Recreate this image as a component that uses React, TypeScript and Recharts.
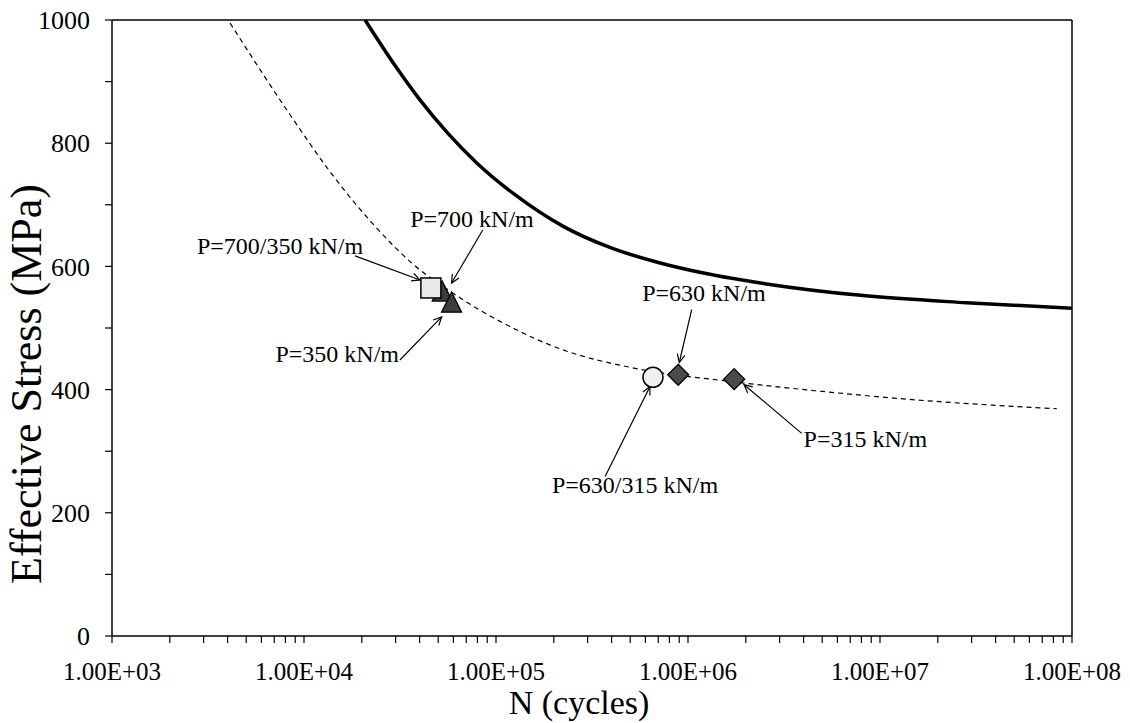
import React from 'react';
import {
  ComposedChart, Line, Scatter, XAxis, YAxis, ReferenceLine, ReferenceDot,
} from 'recharts';

type Pt = { n: number; s: number };

// upper S-N curve (thick line)
const upperCurve: Pt[] = [
  { n: 20800, s: 1000 }, { n: 29800, s: 926 }, { n: 39800, s: 872 },
  { n: 56200, s: 816 }, { n: 79400, s: 768 }, { n: 126000, s: 716 },
  { n: 224000, s: 665 }, { n: 398000, s: 630 }, { n: 708000, s: 606 },
  { n: 1260000, s: 588 }, { n: 2510000, s: 572 }, { n: 7940000, s: 553 },
  { n: 28200000, s: 541 }, { n: 100000000, s: 532 },
];

// fitted curve through the test points (dashed)
const fitCurve: Pt[] = [
  { n: 4120, s: 995 }, { n: 8510, s: 845 }, { n: 13800, s: 752 },
  { n: 22400, s: 672 }, { n: 37200, s: 603 }, { n: 56200, s: 562 },
  { n: 126000, s: 498 }, { n: 200000, s: 470 }, { n: 562000, s: 433 },
  { n: 1580000, s: 414 }, { n: 5010000, s: 397 }, { n: 15800000, s: 383 },
  { n: 83200000, s: 369 },
];

// test results
const squarePts: Pt[] = [{ n: 45800, s: 565 }];
const triangleBack: Pt[] = [{ n: 52500, s: 555 }];
const triangleFront: Pt[] = [{ n: 58700, s: 537 }];
const circlePts: Pt[] = [{ n: 657000, s: 420 }];
const diamondPts: Pt[] = [{ n: 889000, s: 424 }, { n: 1740000, s: 417 }];

// callouts: text anchor, arrow tail, arrow tip
const callouts = [
  { text: 'P=700/350 kN/m', at: [7500, 633], from: [18450, 617], to: [40200, 578] },
  { text: 'P=700 kN/m', at: [75000, 677], from: [85300, 659], to: [58700, 573] },
  { text: 'P=350 kN/m', at: [14900, 459], from: [31600, 448], to: [52100, 518] },
  { text: 'P=630 kN/m', at: [1211000, 557], from: [1045000, 530], to: [901000, 444] },
  { text: 'P=630/315 kN/m', at: [530000, 245], from: [370000, 259], to: [634000, 405] },
  { text: 'P=315 kN/m', at: [8390000, 320], from: [3910000, 329], to: [1958000, 408] },
];

const decades = [1e3, 1e4, 1e5, 1e6, 1e7, 1e8];
const minorSteps = [2, 3, 4, 5, 6, 7, 8, 9];
const xTicks = decades.flatMap((d, i) =>
  i < decades.length - 1 ? [d, ...minorSteps.map((m) => m * d)] : [d]);
const yTicks = [0, 100, 200, 300, 400, 500, 600, 700, 800, 900, 1000];
const yLabelled = [0, 200, 400, 600, 800, 1000];

const FONT = '"Liberation Serif", "Times New Roman", serif';

const XTick = ({ x, y, payload }: any) => {
  if (!decades.includes(payload.value)) return null;
  const exp = Math.round(Math.log10(payload.value));
  return (
    <text x={x} y={y + 35} textAnchor="middle" fontSize={25} fontFamily={FONT} fill="#000">
      {`1.00E+${String(exp).padStart(2, '0')}`}
    </text>
  );
};

const YTick = ({ x, y, payload }: any) => {
  if (!yLabelled.includes(payload.value)) return null;
  return (
    <text x={x - 13} y={y} dy="0.35em" textAnchor="end" fontSize={26} fontFamily={FONT} fill="#000">
      {payload.value}
    </text>
  );
};

const SquareMark = ({ cx, cy }: any) => (
  <rect x={cx - 10} y={cy - 10} width={20} height={20} fill="#e8e8e8" stroke="#000" strokeWidth={1.5} />
);

const TriangleMark = ({ cx, cy }: any) => (
  <polygon
    points={`${cx},${cy - 13} ${cx - 10},${cy + 7} ${cx + 10},${cy + 7}`}
    fill="#3c3c3c" stroke="#000" strokeWidth={1.3}
  />
);

const CircleMark = ({ cx, cy }: any) => (
  <circle cx={cx} cy={cy} r={10} fill="#efefef" stroke="#000" strokeWidth={1.5} />
);

const DiamondMark = ({ cx, cy }: any) => (
  <polygon
    points={`${cx},${cy - 10.5} ${cx + 10.5},${cy} ${cx},${cy + 10.5} ${cx - 10.5},${cy}`}
    fill="#4a4a4a" stroke="#000" strokeWidth={1.3}
  />
);

const Arrow = ({ x1, y1, x2, y2 }: any) => {
  const a = Math.atan2(y2 - y1, x2 - x1);
  const len = 9;
  const spread = 0.45;
  const p1 = [x2 - len * Math.cos(a - spread), y2 - len * Math.sin(a - spread)];
  const p2 = [x2 - len * Math.cos(a + spread), y2 - len * Math.sin(a + spread)];
  return (
    <g stroke="#000" strokeWidth={1.2} fill="none">
      <line x1={x1} y1={y1} x2={x2} y2={y2} />
      <polyline points={`${p1[0]},${p1[1]} ${x2},${y2} ${p2[0]},${p2[1]}`} />
    </g>
  );
};

const CalloutText = (text: string) => ({ cx, cy }: any) => (
  <text x={cx} y={cy} dy="0.35em" textAnchor="middle" fontSize={24} fontFamily={FONT} fill="#000">
    {text}
  </text>
);

export default function App() {
  return (
    <div style={{ position: 'absolute', left: 0, top: 0, background: '#fff' }}>
      <ComposedChart
        width={1130}
        height={723}
        margin={{ top: 20, right: 58, bottom: 7, left: 12 }}
      >
        <XAxis
          dataKey="n"
          type="number"
          scale="log"
          domain={[1000, 100000000]}
          ticks={xTicks}
          interval={0}
          allowDataOverflow
          tick={<XTick />}
          tickSize={7}
          height={80}
          axisLine={{ stroke: '#000', strokeWidth: 1.5 }}
          tickLine={{ stroke: '#000', strokeWidth: 1.2 }}
          label={{
            content: ({ viewBox }: any) => (
              <text
                x={viewBox.x + viewBox.width / 2 - 13}
                y={viewBox.y + 78}
                textAnchor="middle"
                fontSize={34}
                fontFamily={FONT}
                fill="#000"
              >
                N (cycles)
              </text>
            ),
          }}
        />
        <YAxis
          dataKey="s"
          type="number"
          domain={[0, 1000]}
          ticks={yTicks}
          interval={0}
          tick={<YTick />}
          tickSize={7}
          width={100}
          axisLine={{ stroke: '#000', strokeWidth: 1.5 }}
          tickLine={{ stroke: '#000', strokeWidth: 1.2 }}
          label={{
            content: ({ viewBox }: any) => {
              const cx = viewBox.x + 14;
              const cy = viewBox.y + viewBox.height / 2 + 56;
              return (
                <text
                  x={cx}
                  y={cy}
                  transform={`rotate(-90 ${cx} ${cy})`}
                  dy="0.35em"
                  textAnchor="middle"
                  fontSize={44}
                  fontFamily={FONT}
                  fill="#000"
                >
                  Effective Stress (MPa)
                </text>
              );
            },
          }}
        />

        {/* frame: top and right edges */}
        <ReferenceLine y={1000} stroke="#000" strokeWidth={1.5} />
        <ReferenceLine x={100000000} stroke="#000" strokeWidth={1.5} />

        <Line
          data={upperCurve}
          dataKey="s"
          type="monotone"
          stroke="#000"
          strokeWidth={3.5}
          dot={false}
          isAnimationActive={false}
        />
        <Line
          data={fitCurve}
          dataKey="s"
          type="monotone"
          stroke="#000"
          strokeWidth={1.2}
          strokeDasharray="5 4"
          dot={false}
          isAnimationActive={false}
        />

        <Scatter data={triangleBack} shape={<TriangleMark />} isAnimationActive={false} />
        <Scatter data={triangleFront} shape={<TriangleMark />} isAnimationActive={false} />
        <Scatter data={squarePts} shape={<SquareMark />} isAnimationActive={false} />
        <Scatter data={circlePts} shape={<CircleMark />} isAnimationActive={false} />
        <Scatter data={diamondPts} shape={<DiamondMark />} isAnimationActive={false} />

        {callouts.map((c) => (
          <ReferenceLine
            key={`arrow-${c.text}`}
            segment={[{ x: c.from[0], y: c.from[1] }, { x: c.to[0], y: c.to[1] }]}
            shape={<Arrow />}
          />
        ))}
        {callouts.map((c) => (
          <ReferenceDot
            key={`label-${c.text}`}
            x={c.at[0]}
            y={c.at[1]}
            r={0}
            shape={CalloutText(c.text)}
          />
        ))}
      </ComposedChart>
    </div>
  );
}
